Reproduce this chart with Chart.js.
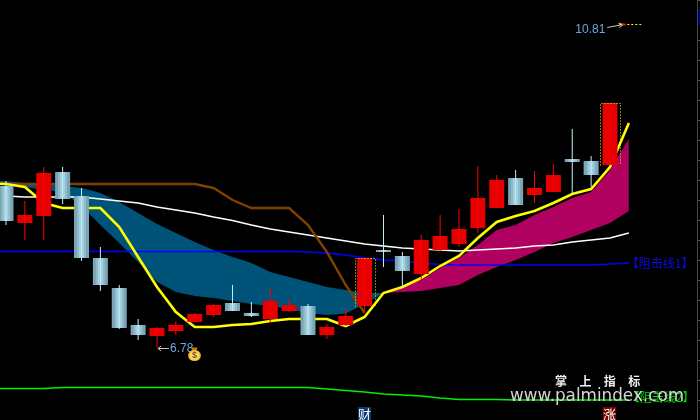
<!DOCTYPE html>
<html>
<head>
<meta charset="utf-8">
<style>html,body{margin:0;padding:0;background:#000}canvas{display:block}</style>
<script src="https://cdn.jsdelivr.net/npm/chart.js@4/dist/chart.umd.min.js"></script>
</head>
<body>
<canvas id="c" width="700" height="420"></canvas>
<script>
const opens  = [8.80,8.3375,8.425,8.975,8.675,7.9,7.525,7.0625,6.925,6.9875,7.1,7.1875,7.3375,7.2125,7.1375,7.2375,7.3,6.9375,7.0625,7.3,8.0,7.925,7.7,8.0,8.075,8.275,8.525,8.9,8.6875,8.725,9.1375,9.1125,9.0625];
const closes = [8.3625,8.4375,8.9625,8.6375,7.9,7.5625,7.025,6.9375,7.025,7.0625,7.2,7.3125,7.2375,7.175,7.3625,7.3125,6.9375,7.0375,7.175,7.9,7.975,7.7375,8.125,8.175,8.2625,8.65,8.875,8.5625,8.775,8.9375,9.1,8.9375,9.8375];
const highs  = [8.8625,8.6125,9.0375,9.0375,8.775,8.0375,7.5625,7.1375,7.0375,7.1125,7.2125,7.325,7.5625,7.35,7.5375,7.3875,7.325,7.075,7.275,7.9,8.4375,7.975,8.1875,8.4375,8.5125,9.05,8.9375,9.0,8.9875,9.075,9.5125,9.175,9.8375];
const lows   = [8.3125,8.125,8.125,8.575,7.8625,7.4875,7.0125,6.875,6.775,6.9375,7.1,7.1625,7.2375,7.1625,7.0875,7.225,6.9375,6.8875,7.05,7.2125,7.7875,7.525,7.625,7.9875,8.0375,8.2125,8.525,8.5625,8.5875,8.725,8.7,8.7875,9.0625];

// The moving lines start one session before the first visible candle
const lineStart = -1;
const yellowLine = [8.8375,8.825,8.7875,8.5875,8.525,8.525,8.525,8.2875,7.9125,7.5375,7.225,7.0375,7.0375,7.0625,7.075,7.1125,7.1375,7.1375,7.1375,7.05,7.1625,7.4625,7.5375,7.65,7.8,7.925,8.15,8.35,8.425,8.4875,8.5875,8.7,8.7625,9.0375,9.5875];
const whiteLine  = [8.675,8.675,8.6625,8.6625,8.6625,8.6625,8.6375,8.6125,8.5875,8.5375,8.5,8.4625,8.4125,8.369,8.3125,8.2625,8.225,8.1875,8.15,8.1125,8.075,8.05,8.025,8.0125,8.0,7.9875,8.0,8.0125,8.025,8.05,8.0625,8.1,8.125,8.15,8.2125];
const blueLine   = [7.981,7.981,7.981,7.981,7.981,7.981,7.981,7.981,7.981,7.981,7.981,7.981,7.981,7.981,7.981,7.981,7.981,7.975,7.9625,7.9375,7.9,7.875,7.8625,7.8375,7.819,7.8125,7.8125,7.8125,7.8125,7.8125,7.8125,7.8125,7.8125,7.825,7.8375];
const brownLine  = [8.825,8.825,8.825,8.825,8.825,8.825,8.825,8.825,8.825,8.825,8.825,8.825,8.775,8.625,8.525,8.525,8.525,8.3125,7.975,7.5625,7.2125];
const greenLine  = [6.269,6.269,6.269,6.269,6.281,6.281,6.281,6.281,6.281,6.281,6.281,6.281,6.281,6.281,6.281,6.281,6.281,6.281,6.2625,6.244,6.225,6.2,6.1875,6.175,6.15,6.131,6.131,6.131,6.125,6.125,6.125,6.125,6.125,6.125,6.125];

const fallBandUpper = [8.8625,8.8625,8.8375,8.825,8.8,8.775,8.7125,8.6,8.4625,8.325,8.2125,8.1,8.0,7.9125,7.8375,7.725,7.6625,7.6,7.5375,7.5,7.4625,7.4625];
const fallBandLower = [8.825,8.8125,8.7875,8.75,8.725,8.55,8.3125,8.0875,7.85,7.6,7.475,7.425,7.4,7.3625,7.325,7.3,7.2625,7.2125,7.1875,7.206,7.325,7.4625];
const riseBandStart = 20;
const riseBandUpper = [7.475,7.5375,7.625,7.775,7.9,8.0625,8.25,8.3125,8.4375,8.5375,8.65,8.725,9.0,9.3875];
const riseBandLower = [7.4625,7.475,7.4875,7.525,7.5625,7.6875,7.7875,7.875,7.975,8.0875,8.1625,8.25,8.3375,8.4875];

const lowLabel = 6.78, lowIndex = 8;
const highLabel = 10.81, highIndex = 32.6;
const markedCandles = [19, 32];
const resistLabel1 = "【阻击线1】";
const resistLabel2 = "【阻击线2】";
const brandLabel = "掌上指标";
const watermark = "www.palmindex.com";
const signalLabels = [["财", 19, "#0a3a6c"], ["涨", 32, "#7c0000"]];

const RED = "#e60000", WICK_RED = "#ff0000";
const SANS = '"Liberation Sans", Arial, sans-serif';
const CJK = '"Noto Sans CJK SC", sans-serif';

const series = (arr, start) => arr.map((y, i) => ({ x: i + start, y }));
const isUp = i => closes[i] >= opens[i];
const bodies = opens.map((o, i) => ({ x: i, y: [o, closes[i]] }));
const wicks = highs.map((h, i) => ({ x: i, y: [lows[i], h] }));
const fallingBodies = bodies.filter((b, i) => !isUp(i));

function line(data, color, width, order) {
  return { type: "line", data, borderColor: color, borderWidth: width, pointRadius: 0, tension: 0, fill: false, order };
}
function band(data, color, order, fillNext) {
  return { type: "line", data, borderWidth: 0, borderColor: "transparent", backgroundColor: color, pointRadius: 0, tension: 0, fill: fillNext ? "+1" : false, order };
}
function bars(data, color, thickness, order) {
  return { type: "bar", data, backgroundColor: color, barThickness: thickness, grouped: false, borderWidth: 0, inflateAmount: 0, order };
}

const annotate = {
  id: "annotate",
  afterDatasetsDraw(chart) {
    const ctx = chart.ctx, xs = chart.scales.x, ys = chart.scales.y;
    ctx.save();
    // dotted frames around the marked candles
    ctx.strokeStyle = "#ffff00"; ctx.lineWidth = 1; ctx.setLineDash([1, 2]);
    markedCandles.forEach(i => {
      const cx = Math.round(xs.getPixelForValue(i)) + 0.5;
      const t = Math.round(ys.getPixelForValue(closes[i])) + 0.5;
      const b = Math.round(ys.getPixelForValue(opens[i])) + 0.5;
      ctx.beginPath(); ctx.moveTo(cx - 10, b); ctx.lineTo(cx - 10, t); ctx.lineTo(cx + 10, t); ctx.lineTo(cx + 10, b); ctx.stroke();
    });
    ctx.setLineDash([]);

    // low marker
    const lx = xs.getPixelForValue(lowIndex), ly = Math.round(ys.getPixelForValue(lowLabel)) + 0.5;
    ctx.strokeStyle = "#c8c8c8"; ctx.beginPath();
    ctx.moveTo(lx + 1, ly); ctx.lineTo(lx + 12, ly);
    ctx.moveTo(lx + 4, ly - 2.5); ctx.lineTo(lx + 1, ly); ctx.lineTo(lx + 4, ly + 2.5); ctx.stroke();
    ctx.font = "12px " + SANS; ctx.fillStyle = "#6ea6d8"; ctx.textBaseline = "middle"; ctx.textAlign = "left";
    ctx.fillText(lowLabel.toFixed(2), lx + 13, ly + 0.5);

    // money bag
    const bx = lx + 37.5, by = ly + 7;
    ctx.fillStyle = "#b8860b"; ctx.beginPath(); ctx.moveTo(bx - 3, by - 8); ctx.lineTo(bx + 3, by - 8); ctx.lineTo(bx + 1.5, by - 4); ctx.lineTo(bx - 1.5, by - 4); ctx.fill();
    const g = ctx.createRadialGradient(bx, by, 1, bx, by, 7);
    g.addColorStop(0, "#fff6c8"); g.addColorStop(0.7, "#f4c430"); g.addColorStop(1, "#c07810");
    ctx.fillStyle = g; ctx.beginPath(); ctx.ellipse(bx, by, 6.5, 5.5, 0, 0, Math.PI * 2); ctx.fill();
    ctx.fillStyle = "#8a3c00"; ctx.font = "bold 9px " + SANS; ctx.textAlign = "center";
    ctx.fillText("$", bx, by + 0.5);

    // high marker
    const hx = xs.getPixelForValue(highIndex), hy = Math.round(ys.getPixelForValue(highLabel)) - 0.5;
    ctx.strokeStyle = "#c8c8c8"; ctx.beginPath();
    ctx.moveTo(hx - 14, hy + 3); ctx.lineTo(hx + 2, hy); ctx.moveTo(hx - 3, hy - 1.5); ctx.lineTo(hx + 2, hy); ctx.lineTo(hx - 2, hy + 3); ctx.stroke();
    ctx.strokeStyle = "#ffff00"; ctx.setLineDash([2, 2]); ctx.beginPath(); ctx.moveTo(hx - 2, hy); ctx.lineTo(hx + 20, hy); ctx.stroke();
    ctx.setLineDash([]);
    ctx.fillStyle = "#e02020"; ctx.fillRect(hx + 1, hy - 1, 3, 2);
    ctx.font = "12px " + SANS; ctx.fillStyle = "#6ea6d8"; ctx.textAlign = "right";
    ctx.fillText(highLabel.toFixed(2), hx - 16, hy + 5);

    // line names
    const area = chart.chartArea;
    ctx.textAlign = "left"; ctx.font = "12px " + CJK;
    ctx.fillStyle = "#0a0ae6";
    ctx.fillText(resistLabel1, xs.getPixelForValue(33) - 2, ys.getPixelForValue(7.8125) - 2);
    ctx.fillStyle = "#00d000";
    ctx.fillText(resistLabel2, xs.getPixelForValue(33) - 1, ys.getPixelForValue(6.156));

    // signal badges
    ctx.textAlign = "center"; ctx.font = "13px " + CJK;
    signalLabels.forEach(([t, i, bg]) => {
      const x = Math.round(xs.getPixelForValue(i));
      ctx.fillStyle = bg; ctx.fillRect(x - 7, area.bottom - 13, 13, 13);
      ctx.fillStyle = "#ffffff"; ctx.fillText(t, x - 0.5, area.bottom - 6);
    });

    // brand and watermark
    ctx.fillStyle = "#f0f0f0"; ctx.font = "bold 12px " + CJK; ctx.textAlign = "left";
    ctx.letterSpacing = "12.4px";
    ctx.fillText(brandLabel, 555, 381);
    ctx.letterSpacing = "0px";
    ctx.fillStyle = "#d6d6d6"; ctx.font = '16.8px "DejaVu Sans", sans-serif'; ctx.textBaseline = "alphabetic";
    ctx.fillText(watermark, 510, 401);

    // the marker block on the price axis
    ctx.fillStyle = "#00007a"; ctx.fillRect(area.right + 1, 9, 2, 16);
    ctx.restore();
  }
};

new Chart(document.getElementById("c"), {
  type: "bar",
  data: {
    datasets: [
      bars(wicks, wicks.map((w, i) => isUp(i) ? WICK_RED : "#c6ecf8"), 1, 1),
      bars(fallingBodies, "#a2d0df", 5, 2),
      bars(fallingBodies, "#8fbbca", 9, 3),
      bars(bodies, bodies.map((b, i) => isUp(i) ? RED : "#7ba5b6"), 15, 4),
      line(series(yellowLine, lineStart), "#ffff00", 2.6, 5),
      line(series(brownLine, lineStart), "#7f4000", 2.4, 6),
      line(series(whiteLine, lineStart), "#ffffff", 1.5, 6),
      line(series(blueLine, lineStart), "#0000ff", 1.7, 6),
      line(series(greenLine, lineStart), "#00f000", 1.6, 6),
      band(series(fallBandUpper, lineStart), "#005378", 9, true),
      band(series(fallBandLower, lineStart), "#005378", 9, false),
      band(series(riseBandUpper, riseBandStart), "#b00060", 8, true),
      band(series(riseBandLower, riseBandStart), "#b00060", 8, false)
    ]
  },
  options: {
    responsive: false,
    animation: false,
    devicePixelRatio: 1,
    layout: { padding: 0 },
    plugins: { legend: { display: false }, tooltip: { enabled: false } },
    scales: {
      x: { type: "linear", display: false, offset: false, min: -0.318, max: 36.61, grid: { display: false } },
      y: {
        type: "linear", position: "right", min: 5.875, max: 11.125,
        ticks: { display: false, stepSize: 0.25, includeBounds: false },
        border: { display: true, color: "#484848", dash: [1, 3] },
        grid: {
          drawTicks: true, tickLength: 3,
          color: c => Math.abs(c.tick.value * 2 - Math.round(c.tick.value * 2)) < 1e-6 ? "#505050" : "rgba(0,0,0,0)",
          tickColor: "#505050"
        }
      }
    }
  },
  plugins: [annotate]
});
</script>
</body>
</html>
